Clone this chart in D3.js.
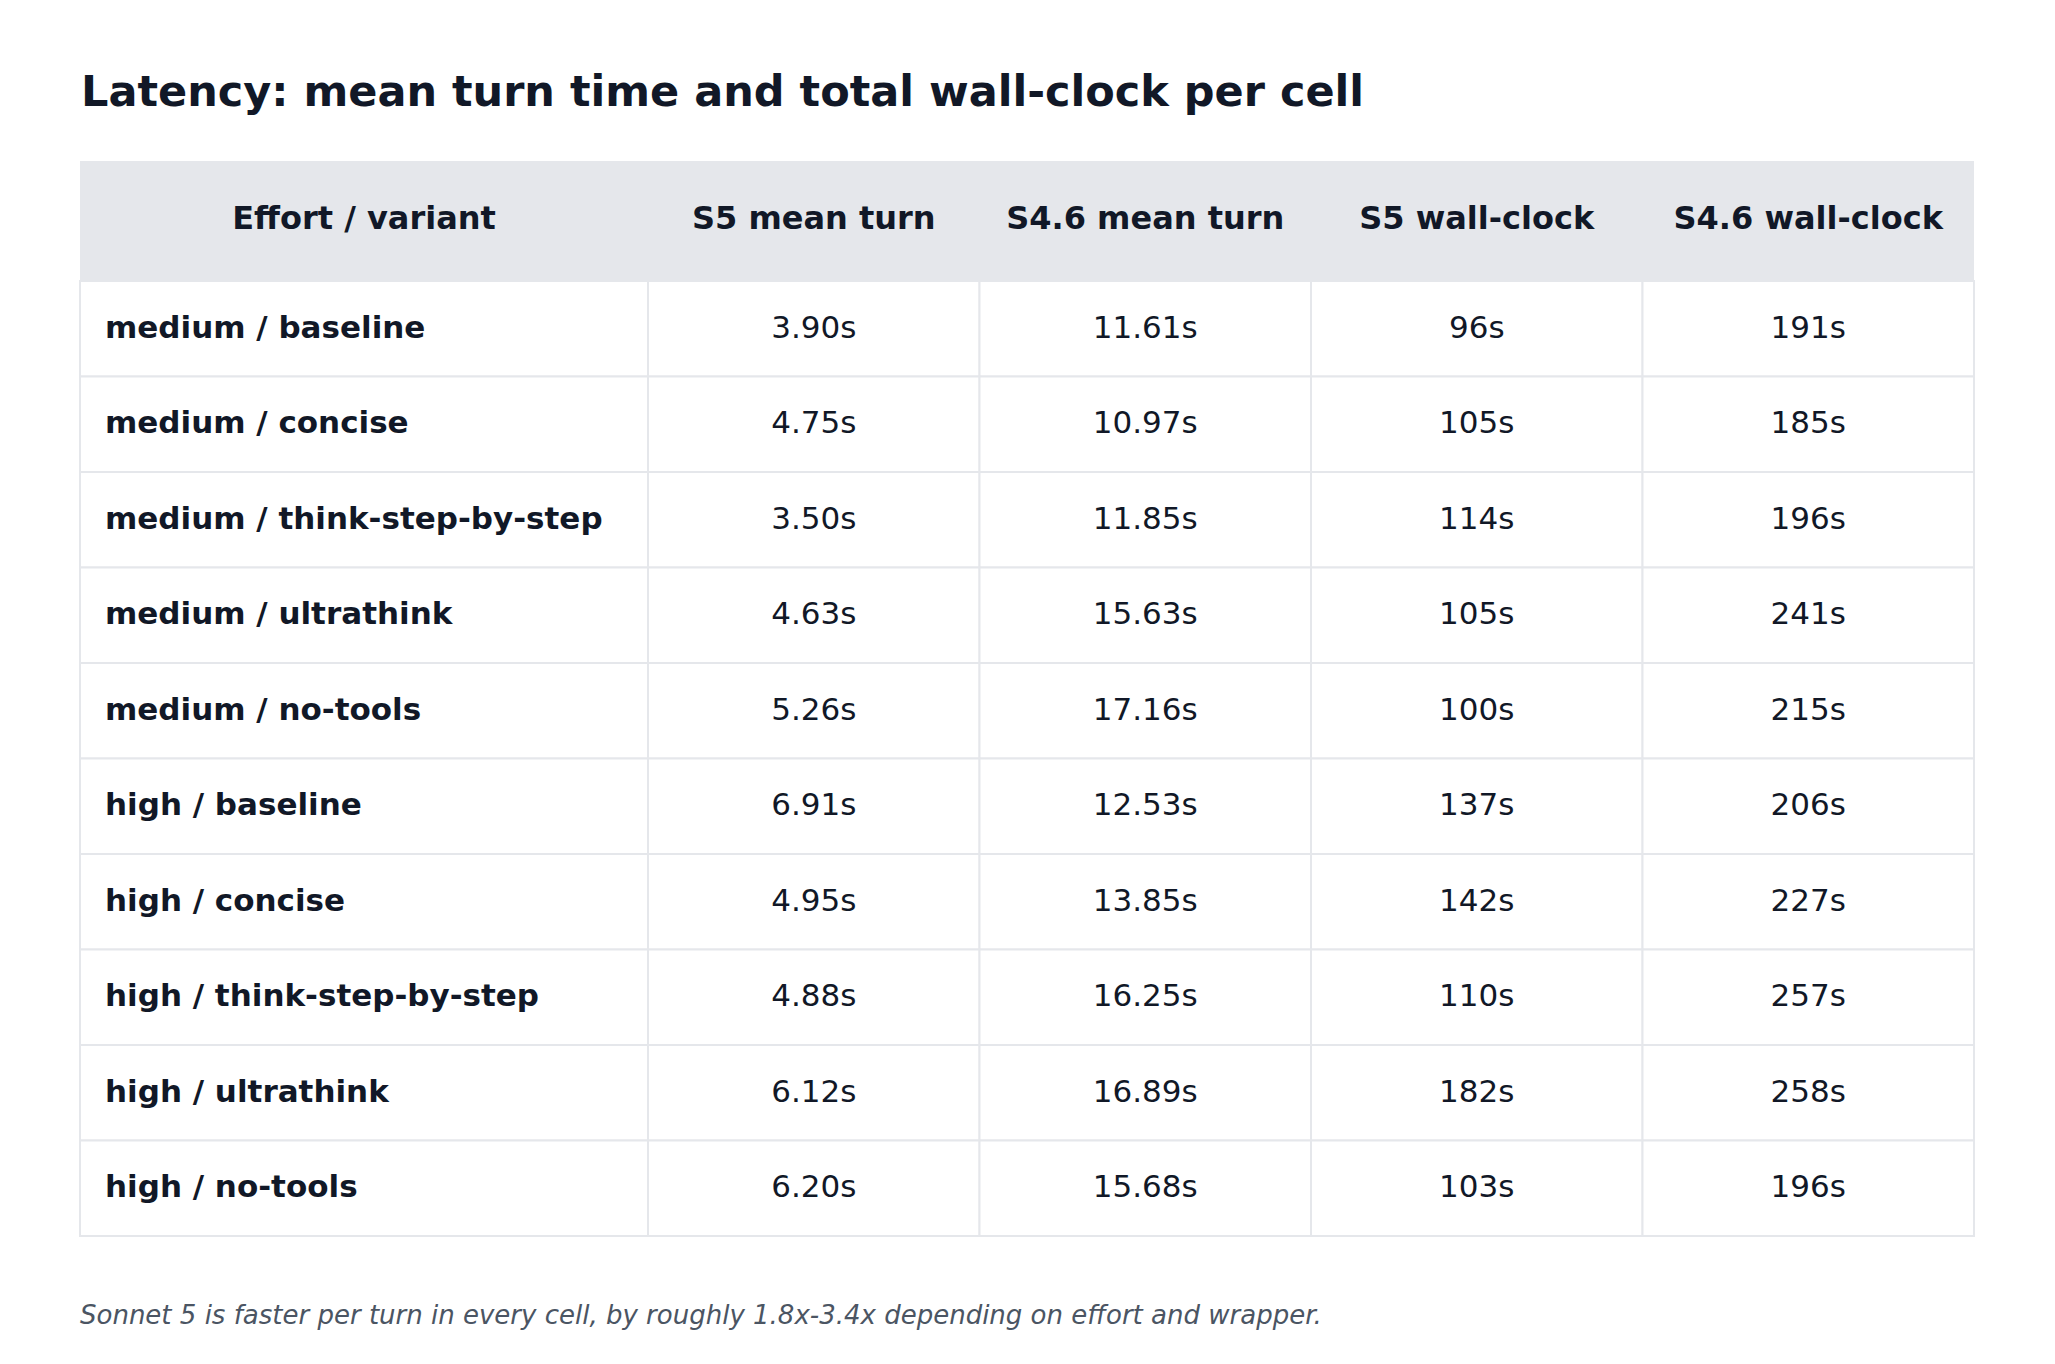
<!DOCTYPE html>
<html>
<head>
<meta charset="utf-8">
<script src="https://cdn.jsdelivr.net/npm/d3@7"></script>
<style>
  html, body { margin: 0; padding: 0; background: #ffffff; }
  svg { display: block; font-family: "DejaVu Sans", sans-serif; }
</style>
</head>
<body>
<div id="chart"></div>
<script>
const title = 'Latency: mean turn time and total wall-clock per cell';
const footnote = 'Sonnet 5 is faster per turn in every cell, by roughly 1.8x-3.4x depending on effort and wrapper.';

const columns = ['Effort / variant', 'S5 mean turn', 'S4.6 mean turn', 'S5 wall-clock', 'S4.6 wall-clock'];

const variants = [
    'medium / baseline', 'medium / concise', 'medium / think-step-by-step', 'medium / ultrathink', 'medium / no-tools',
    'high / baseline', 'high / concise', 'high / think-step-by-step', 'high / ultrathink', 'high / no-tools'
];

const s5MeanTurn = [3.90, 4.75, 3.50, 4.63, 5.26, 6.91, 4.95, 4.88, 6.12, 6.20];
const s46MeanTurn = [11.61, 10.97, 11.85, 15.63, 17.16, 12.53, 13.85, 16.25, 16.89, 15.68];
const s5WallClock = [96, 105, 114, 105, 100, 137, 142, 110, 182, 103];
const s46WallClock = [191, 185, 196, 241, 215, 206, 227, 257, 258, 196];

const width = 2055;
const height = 1364;
const table = {left: 80, right: 1974, top: 161, headerH: 120, bottom: 1236};
const firstColW = 568;

const rows = variants.map((v, i) => [
    v,
    s5MeanTurn[i].toFixed(2) + 's',
    s46MeanTurn[i].toFixed(2) + 's',
    s5WallClock[i] + 's',
    s46WallClock[i] + 's'
]);

const svg = d3.select('#chart').append('svg')
    .attr('width', width)
    .attr('height', height);

// column edges: wide label column, then four equal value columns
const valueX = d3.scaleBand()
    .domain(d3.range(1, columns.length))
    .range([table.left + firstColW, table.right]);

const colLeft = c => c === 0 ? table.left : valueX(c);
const colW = c => c === 0 ? firstColW : valueX.bandwidth();

const y = d3.scaleBand()
    .domain(d3.range(rows.length))
    .range([table.top + table.headerH, table.bottom]);

const ink = '#111827';
const line = '#e5e7eb';

svg.append('text')
    .attr('x', 81)
    .attr('y', 106)
    .attr('fill', ink)
    .attr('font-size', 43)
    .attr('font-weight', 'bold')
    .text(title);

// header band
svg.append('rect')
    .attr('x', table.left)
    .attr('y', table.top)
    .attr('width', table.right - table.left)
    .attr('height', table.headerH)
    .attr('fill', line);

svg.append('g')
    .selectAll('text')
    .data(columns)
    .enter().append('text')
    .attr('x', (d, i) => colLeft(i) + colW(i) / 2)
    .attr('y', table.top + table.headerH / 2 - 3)
    .attr('dy', '0.35em')
    .attr('text-anchor', 'middle')
    .attr('fill', ink)
    .attr('font-size', 32)
    .attr('font-weight', 'bold')
    .text(d => d);

// body cells
const rowG = svg.append('g')
    .selectAll('g')
    .data(rows)
    .enter().append('g')
    .attr('transform', (d, i) => 'translate(0,' + y(i) + ')');

rowG.selectAll('rect')
    .data(d => d)
    .enter().append('rect')
    .attr('x', (d, i) => colLeft(i))
    .attr('y', 0)
    .attr('width', (d, i) => colW(i))
    .attr('height', y.bandwidth())
    .attr('fill', '#ffffff')
    .attr('stroke', line)
    .attr('stroke-width', 2);

rowG.selectAll('text')
    .data(d => d)
    .enter().append('text')
    .attr('x', (d, i) => i === 0 ? colLeft(i) + 25 : colLeft(i) + colW(i) / 2)
    .attr('y', y.bandwidth() / 2 - 2)
    .attr('dy', '0.35em')
    .attr('text-anchor', (d, i) => i === 0 ? 'start' : 'middle')
    .attr('fill', ink)
    .attr('font-size', 31)
    .attr('font-weight', (d, i) => i === 0 ? 'bold' : 'normal')
    .text(d => d);

svg.append('text')
    .attr('x', 80)
    .attr('y', 1324)
    .attr('fill', '#4b5563')
    .attr('font-size', 26)
    .attr('font-style', 'italic')
    .text(footnote);
</script>
</body>
</html>
